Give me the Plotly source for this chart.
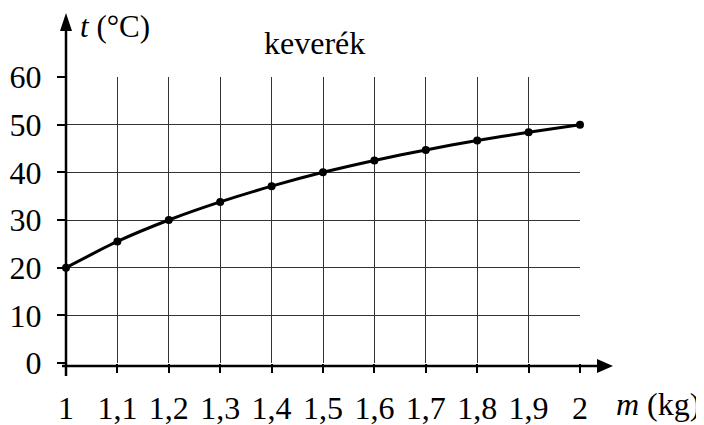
import plotly.graph_objects as go

# Data
mass_kg = [1.0, 1.1, 1.2, 1.3, 1.4, 1.5, 1.6, 1.7, 1.8, 1.9, 2.0]
temp_c = [20.0, 25.5, 30.0, 33.8, 37.1, 40.0, 42.5, 44.7, 46.7, 48.4, 50.0]
x_tick_vals = [1.0, 1.1, 1.2, 1.3, 1.4, 1.5, 1.6, 1.7, 1.8, 1.9, 2.0]
x_tick_text = ["1", "1,1", "1,2", "1,3", "1,4", "1,5", "1,6", "1,7", "1,8", "1,9", "2"]
y_tick_vals = [0, 10, 20, 30, 40, 50, 60]
y_tick_text = ["0", "10", "20", "30", "40", "50", "60"]

FONT = "Liberation Serif"
FS = 32
TFS = 32

# page (window) size and body margin offset
OFF = 8
Wd, Ht = 704 - OFF, 425 - OFF
# plot area in window pixels
L, R, T, B = 66, 580, 77, 363
PW, PH = R - L, B - T

def px(x):
    return (x - L) / PW

def py(y):
    return (B - y) / PH

fig = go.Figure()
fig.add_trace(go.Scatter(
    x=mass_kg, y=temp_c, mode="lines+markers",
    line=dict(color="black", width=3, shape="spline", smoothing=0.6),
    marker=dict(color="black", size=8),
    cliponaxis=False, showlegend=False,
))

shapes = []
# y axis line
shapes.append(dict(type="line", xref="paper", yref="paper",
                   x0=px(66), x1=px(66), y0=py(376), y1=py(28),
                   line=dict(color="black", width=2.5)))
# y arrowhead
shapes.append(dict(type="path", xref="paper", yref="paper",
                   path=f"M {px(60)} {py(31)} L {px(72)} {py(31)} L {px(66)} {py(13)} Z",
                   fillcolor="black", line=dict(color="black", width=0)))
# x axis line
shapes.append(dict(type="line", xref="paper", yref="paper",
                   x0=px(62), x1=px(600), y0=py(366), y1=py(366),
                   line=dict(color="black", width=2.5)))
# x arrowhead
shapes.append(dict(type="path", xref="paper", yref="paper",
                   path=f"M {px(597)} {py(359)} L {px(597)} {py(373)} L {px(613)} {py(366)} Z",
                   fillcolor="black", line=dict(color="black", width=0)))

annotations = [
    dict(xref="paper", yref="paper", x=px(78), y=py(26), xanchor="left", yanchor="middle",
         text="<i>t</i> (°C)", showarrow=False, font=dict(family=FONT, size=31, color="black")),
    dict(xref="paper", yref="paper", x=px(314), y=py(43), xanchor="center", yanchor="middle",
         text="keverék", showarrow=False, font=dict(family=FONT, size=FS, color="black")),
    dict(xref="paper", yref="paper", x=px(614), y=py(404), xanchor="left", yanchor="middle",
         text="<i>m</i> (kg)", showarrow=False, font=dict(family=FONT, size=FS, color="black")),
]

fig.update_layout(
    width=Wd, height=Ht,
    margin=dict(l=L - OFF, r=Wd - (R - OFF), t=T - OFF, b=Ht - (B - OFF), pad=0, autoexpand=False),
    paper_bgcolor="white", plot_bgcolor="white",
    font=dict(family=FONT, size=FS, color="black"),
    shapes=shapes, annotations=annotations,
    xaxis=dict(range=[1, 2], tickvals=x_tick_vals, ticktext=x_tick_text,
               showgrid=True, gridcolor="#333", gridwidth=1, zeroline=False, automargin=False,
               showline=False, ticks="outside", ticklen=9, tickwidth=1.5, tickcolor="black",
               ticklabelstandoff=8, tickfont=dict(family=FONT, size=TFS, color="black"),
               fixedrange=True),
    yaxis=dict(range=[0, 60], tickvals=y_tick_vals, ticktext=y_tick_text,
               showgrid=True, gridcolor="#333", gridwidth=1, zeroline=False, automargin=False,
               showline=False, ticks="outside", ticklen=8, tickwidth=1.5, tickcolor="black",
               ticklabelstandoff=9, tickfont=dict(family=FONT, size=TFS, color="black"),
               fixedrange=True),
)

fig.write_html("out.html", config={"displayModeBar": False})
